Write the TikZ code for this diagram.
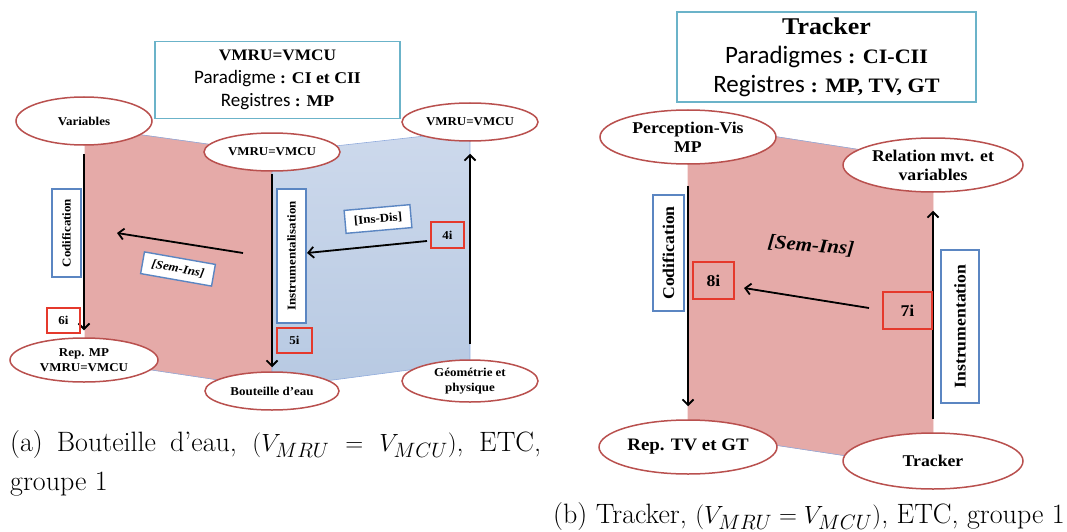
\documentclass[tikz,border=0pt]{standalone}
\usepackage{fontspec}
\usetikzlibrary{shapes.geometric,arrows.meta,calc}
\newfontfamily\calf{Carlito}
\newfontfamily\labf[FakeStretch=1.08,ItalicFont={Liberation Serif Bold Italic}]{Liberation Serif Bold}
\definecolor{ellred}{HTML}{B9504E}
\definecolor{redfill}{HTML}{E5AAA8}
\definecolor{bluetop}{HTML}{CDD9EC}
\definecolor{bluebot}{HTML}{B7C9E2}
\definecolor{edgeblue}{HTML}{8FAADC}
\definecolor{boxblue}{HTML}{5B86C2}
\definecolor{boxred}{HTML}{E5392C}
\definecolor{titleteal}{HTML}{6BB3C9}
\tikzset{
  ell/.style={ellipse,draw=ellred,line width=1.5pt,fill=white,inner sep=0pt,align=center},
  smalll/.style={font=\labf\fontsize{12}{15}\selectfont},
  biglab/.style={font=\labf\fontsize{16.4}{19}\selectfont},
  bbox/.style={draw=boxblue,line width=1.4pt,fill=white,inner sep=0pt},
  rbox/.style={draw=boxred,line width=1.4pt,inner sep=0pt},
  tbox/.style={draw=titleteal,line width=1.6pt,fill=white,inner sep=0pt,align=center},
  arr/.style={line width=1.8pt,-{Straight Barb[length=5.5pt,width=11pt,line width=1.8pt]}},
  plane/.style={draw=edgeblue,line width=0.6pt},
  capt/.style={anchor=west,inner sep=0pt,font=\fontsize{28}{32}\selectfont}
}
\begin{document}
\begin{tikzpicture}[x=1pt,y=-1pt]
\useasboundingbox (0,0) rectangle (1067,532);
% ---------- left figure ----------
\fill[plane,redfill] (85,127) -- (272,153) -- (272,388) -- (85,360) -- cycle;
\shade[top color=bluetop,bottom color=bluebot] (272,153) -- (470,131) -- (470,362) -- (272,388) -- cycle;
\draw[plane] (272,153) -- (470,131) -- (470,362) -- (272,388) -- cycle;
\draw[plane] (85,127) -- (272,153) (85,360) -- (272,388);

\node[tbox,font=\calf\fontsize{19}{23}\selectfont,minimum width=245pt,minimum height=77pt] (t1) at (277.5,80)
  {{\labf\fontsize{16}{23}\selectfont VMRU=VMCU}\\
   Paradigme {\labf\fontsize{16.4}{23}\selectfont : CI et CII}\\
   Registres {\labf\fontsize{16.4}{23}\selectfont : MP}};

\node[ell,smalll,minimum width=136pt,minimum height=48pt] (var) at (84,121) {Variables};
\node[ell,smalll,minimum width=136pt,minimum height=38pt] (vm1) at (272,152) {VMRU=VMCU};
\node[ell,smalll,minimum width=136pt,minimum height=38pt] (vm2) at (470,122) {VMRU=VMCU};
\node[ell,smalll,minimum width=148pt,minimum height=44pt] (rep) at (84,360) {Rep. MP\\VMRU=VMCU};
\node[ell,smalll,minimum width=134pt,minimum height=38pt] (bout) at (272,391) {Bouteille d’eau};
\node[ell,smalll,minimum width=136pt,minimum height=42pt] (geo) at (470,381) {Géométrie et\\physique};

\draw[arr,shorten <=8pt,shorten >=7pt] (var) -- (rep);
\draw[arr,shorten <=2pt,shorten >=4pt] (vm1) -- (bout);
\draw[arr,shorten <=15pt,shorten >=12pt] (geo) -- (vm2);

\node[bbox,smalll,rotate=90,minimum width=88pt,minimum height=29pt] (cod1) at (66.5,233) {Codification};
\node[bbox,smalll,rotate=90,minimum width=134pt,minimum height=29pt] (ins1) at (291.5,256) {Instrumentalisation};
\node[rbox,smalll,minimum width=33pt,minimum height=25pt] (b6) at (63.5,320.5) {6i};
\node[rbox,smalll,minimum width=35pt,minimum height=25pt] (b5) at (294.5,340.5) {5i};
\node[rbox,smalll,minimum width=33pt,minimum height=26pt] (b4) at (447.5,235) {4i};
\node[bbox,font=\labf\itshape\fontsize{12}{13}\selectfont,rotate=-10,minimum width=72pt,minimum height=22pt] (semins1) at (178,269) {[Sem-Ins]};
\node[bbox,smalll,rotate=5,minimum width=66pt,minimum height=23pt] (insdis) at (378,219) {[Ins-Dis]};

\coordinate (s1a) at (243,253);
\coordinate (s1b) at (117,233);
\draw[arr] (s1a) -- (s1b);
\coordinate (d1a) at (427,241);
\coordinate (d1b) at (307,253);
\draw[arr] (d1a) -- (d1b);

% ---------- right figure ----------
\fill[plane,redfill] (688,123) -- (933,161) -- (933,469) -- (688,432) -- cycle;
\draw[plane] (688,123) -- (933,161) (688,432) -- (933,469);

\node[tbox,font=\calf\fontsize{25}{29}\selectfont,minimum width=299pt,minimum height=90pt] (t2) at (826.5,57)
  {{\labf\fontsize{24}{29}\selectfont Tracker}\\
   Paradigmes {\labf\fontsize{20.5}{29}\selectfont : CI-CII}\\
   Registres {\labf\fontsize{20.5}{29}\selectfont : MP, TV, GT}};

\node[ell,biglab,minimum width=176pt,minimum height=54pt] (pv) at (688,137) {Perception-Vis\\MP};
\node[ell,biglab,minimum width=180pt,minimum height=54pt] (rel) at (933,165) {Relation mvt. et\\variables};
\node[ell,font=\labf\fontsize{17.5}{19}\selectfont,minimum width=178pt,minimum height=54pt] (reptv) at (688,447) {Rep. TV et GT};
\node[ell,biglab,minimum width=180pt,minimum height=56pt] (trk) at (933,461) {Tracker};

\draw[arr,shorten <=21pt,shorten >=13pt] (pv) -- (reptv);
\draw[arr,shorten <=13pt,shorten >=18pt] (trk) -- (rel);

\node[bbox,biglab,rotate=90,minimum width=116pt,minimum height=31pt] (cod2) at (668.5,253) {Codification};
\node[bbox,biglab,rotate=90,minimum width=153pt,minimum height=38pt] (ins2) at (960,326.5) {Instrumentation};
\node[rbox,biglab,minimum width=41pt,minimum height=37pt] (b8) at (713.5,280.5) {8i};
\node[rbox,biglab,minimum width=49pt,minimum height=37pt] (b7) at (907.5,310.5) {7i};
\node[font=\labf\itshape\fontsize{19.5}{21}\selectfont,rotate=-5,inner sep=0pt] (semins2) at (811,246) {[Sem-Ins]};

\coordinate (s2a) at (869,308);
\coordinate (s2b) at (744,288);
\draw[arr] (s2a) -- (s2b);

% ---------- captions ----------
\node[capt] (capa1) at (10,445) {\makebox[531pt][s]{(a) Bouteille d’eau, $(V_{MRU} = V_{MCU})$, ETC,}};
\node[capt] (capa2) at (10,484) {groupe 1};
\node[capt] (capb) at (553,517) {(b) Tracker, $(V_{MRU} = V_{MCU})$, ETC, groupe 1};
\end{tikzpicture}
\end{document}
